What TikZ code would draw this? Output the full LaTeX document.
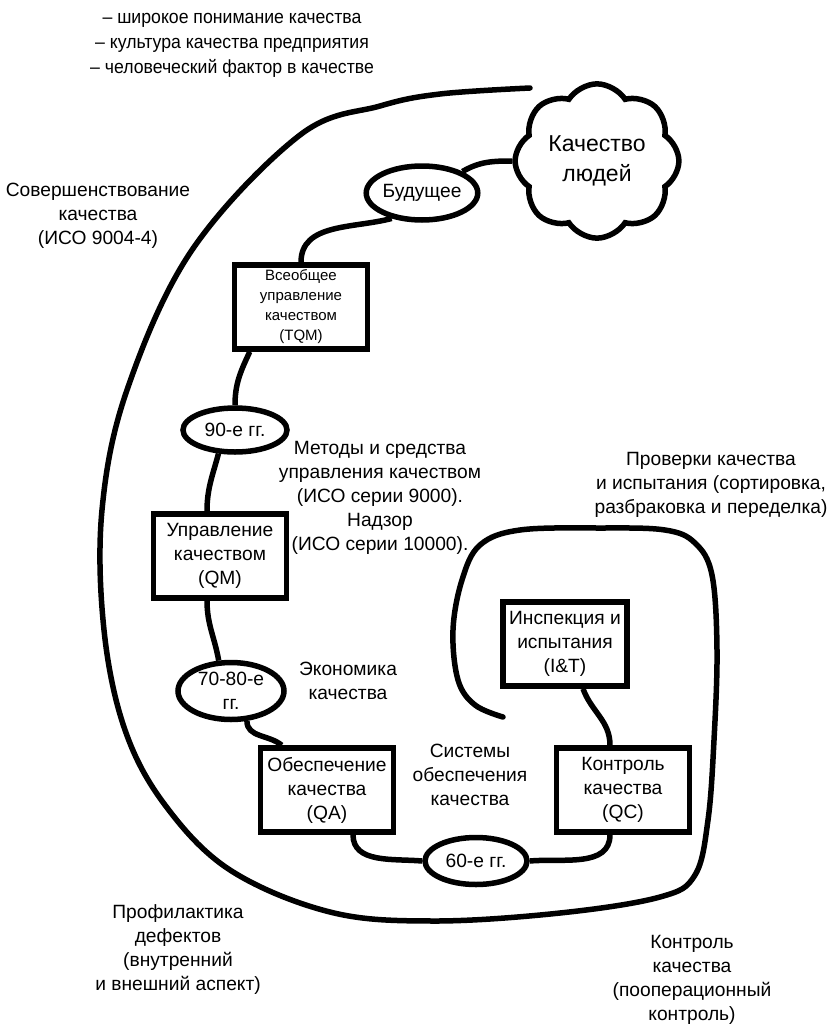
\documentclass[tikz,border=0pt]{standalone}
\usepackage{fontspec}
\setmainfont{Liberation Sans}
\newfontfamily\narrowfont[FakeStretch=0.93]{Liberation Sans}
\usetikzlibrary{shapes.geometric, shapes.symbols, positioning}
\newcommand{\lbl}{\fontsize{19.2}{24}\selectfont}
\newcommand{\smalllbl}{\fontsize{15}{20}\selectfont}

\begin{document}
\begin{tikzpicture}[x=1pt, y=-1pt,
  stage/.style={rectangle, draw, line width=5.5pt, minimum width=133pt, minimum height=84pt, align=center, inner sep=1pt, font=\lbl},
  era/.style={ellipse, draw, line width=5.5pt, inner sep=0pt, align=center, font=\lbl},
  link/.style={line width=5.5pt},
  note/.style={align=center, font=\lbl}]

\fill[white] (0,0) rectangle (829,1028);
\useasboundingbox (0,0) rectangle (829,1028);

% stages of quality
\node[cloud, draw, line width=5.5pt, cloud puffs=8, cloud puff arc=115, aspect=1.1,
  minimum width=130pt, minimum height=113pt, align=center,
  font=\fontsize{23}{30}\selectfont] (ppl) at (597,161) {Качество\\людей};
\node[era, minimum width=106pt, minimum height=54pt] (fut) at (422,193) {Будущее};
\node[stage, font=\smalllbl] (tqm) at (301,307) {Всеобщее\\управление\\качеством\\(TQM)};
\node[era, minimum width=104pt, minimum height=44pt] (n90) at (235,430) {90-е гг.};
\node[stage] (qm) at (220,556) {Управление\\качеством\\(QM)};
\node[era, minimum width=106pt, minimum height=57pt] (n7080) at (231,691) {70-80-е\\гг.};
\node[stage] (qa) at (327,790) {Обеспечение\\качества\\(QA)};
\node[era, minimum width=102pt, minimum height=47pt] (n60) at (476,861) {60-е гг.};
\node[stage] (qc) at (623,790) {Контроль\\качества\\(QC)};
\node[stage, minimum width=124pt] (it) at (565,644) {Инспекция и\\испытания\\(I\&T)};

% connectors
\draw[link] (fut.28) to[out=30, in=180] (ppl.west);
\draw[link] (fut.220) to[out=195, in=90] (tqm.north);
\draw[link] ([xshift=18pt]tqm.south west) to[out=-115, in=90] (n90.north);
\draw[link] (n90.235) to[out=-105, in=90] ([xshift=-13pt]qm.north);
\draw[link] ([xshift=-13pt]qm.south) to[out=-90, in=100] (n7080.112);
\draw[link] (n7080.-62) to[out=-90, in=140] ([xshift=24pt]qa.north west);
\draw[link] ([xshift=26pt]qa.south) to[out=-90, in=175] (n60.west);
\draw[link] (n60.east) to[out=5, in=-90] ([xshift=-13pt]qc.south);
\draw[link] ([xshift=-13pt]qc.north) to[out=90, in=-70] ([xshift=18pt]it.south);

% spiral
\draw[link, line cap=round] plot[smooth, tension=0.6] coordinates {
  (530,88) (440,94) (380,106) (300,135) (192,250) (127,390) (102,510)
  (104,630) (125,730) (165,805) (230,870) (330,912) (433,921) (560,913)
  (660,897) (695,875) (708,820) (714,740) (717,650) (712,575) (695,543)
  (665,530) (600,528) (520,530) (480,545) (462,580) (453,630) (458,680)
  (475,705) (503,717)};

% labels
\node[align=center, font=\narrowfont\fontsize{19}{25}\selectfont] (aims) at (232,45)
  {– широкое понимание качества\\– культура качества предприятия\\– человеческий фактор в качестве};
\node[note] (impr) at (98,216) {Совершенствование\\качества\\(ИСО 9004-4)};
\node[note] (meth) at (380,498) {Методы и средства\\управления качеством\\(ИСО серии 9000).\\Надзор\\(ИСО серии 10000).};
\node[note] (insp) at (711,485) {Проверки качества\\и испытания (сортировка,\\разбраковка и переделка)};
\node[note] (econ) at (348,681) {Экономика\\качества};
\node[note] (sys) at (470,775) {Системы\\обеспечения\\качества};
\node[note] (prev) at (178,950) {Профилактика\\дефектов\\(внутренний\\и внешний аспект)};
\node[note] (ctrl) at (692,980) {Контроль\\качества\\(пооперационный\\контроль)};

\end{tikzpicture}
\end{document}
